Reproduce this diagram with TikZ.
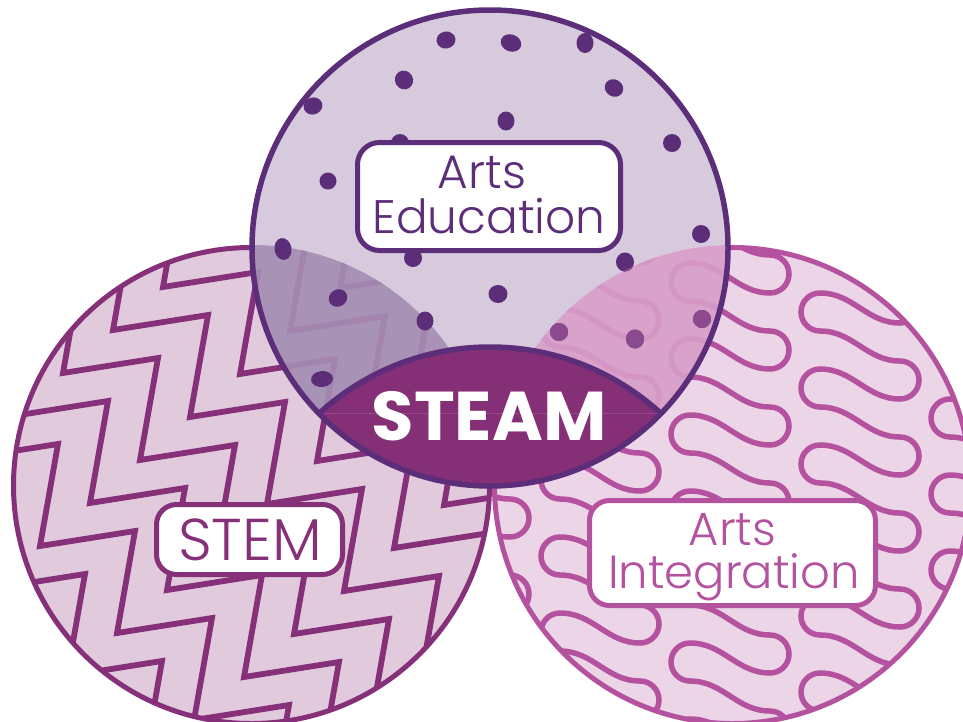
\documentclass[tikz,border=0pt]{standalone}
\usepackage{fontspec}
\setmainfont{Poppins}
\newfontfamily\lightfont{Poppins Light}
\definecolor{cTopB}{HTML}{5C2E7A}
\definecolor{cTopF}{HTML}{D8CADD}
\definecolor{cLeftF}{HTML}{E0CADC}
\definecolor{cLeftL}{HTML}{86307A}
\definecolor{cRightF}{HTML}{EBD5E7}
\definecolor{cRightL}{HTML}{B5529F}
\definecolor{cLOv}{HTML}{A893B6}
\definecolor{cLOvL}{HTML}{A185AE}
\definecolor{cROv}{HTML}{D9A2CB}
\definecolor{cROvL}{HTML}{D396C5}
\definecolor{cROvDot}{HTML}{8B4A8D}
\definecolor{cLens}{HTML}{842F76}
\definecolor{cLensLine}{HTML}{94478A}
\newcommand\zzpattern[1]{%
  \foreach \k in {-7,...,7}{%
    \pgfmathsetmacro\sx{113-50*\k-5*77}%
    \pgfmathsetmacro\sy{330+43*\k-5*87}%
    \draw[zz,#1] (\sx,\sy) \foreach \m in {1,...,13}{ -- ++(95,-15) -- ++(-18,102) };
  }}
\newcommand\sqpattern[1]{%
  \foreach \c in {0,...,4}{%
    \pgfmathsetmacro\sx{430+130*\c}%
    \pgfmathsetmacro\sy{165+mod(30*\c,76)}%
    \draw[sq,#1] (\sx,\sy) \foreach \n in {1,...,8}{ to[out=0,in=180] ++(80,30) arc[start angle=-90,end angle=90,radius=19] to[out=180,in=0] ++(-80,-30) arc[start angle=-90,end angle=-270,radius=19] };
  }}
\newcommand\dotlist{446/40/9.5/8.5/10, 511/43/10.5/8.5/-20, 585/43/8.5/10/0, 404/80/9/9.5/30, 614/88/9.5/8.5/-30, 313/106/9.5/8.5/20, 506/121/8.5/9.5/0, 672/143/9/9/0, 400/143/9/9/0, 328/181/8.5/8.5/0, 701/234/9/9/0, 283/249/8.5/11/10, 413/258/9/9/0, 625/262/9/9.5/0, 498/294/9.5/9/0, 338/298/9.5/8.5/30, 425/321/8.5/9.5/0, 702/319/9/9/0, 635/339/9/9.5/0, 559/332/9/9/0, 322/379/11/8/5}
\begin{document}
\begin{tikzpicture}[x=1pt,y=-1pt,
  zz/.style={line width=5.8pt, line join=miter, miter limit=10},
  sq/.style={line width=5.5pt, line cap=round},
  circborder/.style={line width=5pt},
  lblbox/.style={fill=white, line width=5pt, rounded corners=20pt, inner sep=0pt},
  lbltext/.style={anchor=base, inner sep=0pt},
]
\useasboundingbox (0,0) rectangle (963,721);
\clip (0,0) rectangle (963,721);
\coordinate (cL) at (251.5,485.5);
\coordinate (cR) at (732.5,485.5);
\coordinate (cT) at (490,248);
\coordinate (cV) at (490,600);
\coordinate (tipL) at (319,413.5);
\coordinate (tipR) at (661,413.5);
% left circle (STEM)
\fill[cLeftF] (cL) circle[radius=238];
\begin{scope}
  \clip (cL) circle[radius=238];
  \zzpattern{cLeftL}
\end{scope}
\draw[cLeftL, circborder] (cL) circle[radius=238];
% right circle (Arts Integration)
\fill[cRightF] (cR) circle[radius=238];
\begin{scope}
  \clip (cR) circle[radius=238];
  \sqpattern{cRightL}
\end{scope}
\draw[cRightL, circborder] (cR) circle[radius=238];
% top circle (Arts Education)
\fill[cTopF] (cT) circle[radius=238];
\begin{scope}
  \clip (cT) circle[radius=238];
  \clip (cL) circle[radius=240.5];
  \fill[cLOv] (cL) circle[radius=241];
  \zzpattern{cLOvL}
\end{scope}
\begin{scope}
  \clip (cT) circle[radius=238];
  \clip (cR) circle[radius=240.5];
  \fill[cROv] (cR) circle[radius=241];
  \sqpattern{cROvL}
\end{scope}
% dots
\foreach \x/\y/\rx/\ry/\rot in \dotlist {
  \fill[cTopB, rotate around={\rot:(\x,\y)}] (\x,\y) ellipse[x radius=\rx, y radius=\ry];
}
\begin{scope}
  \clip (cR) circle[radius=240.5];
  \foreach \x/\y/\rx/\ry/\rot in \dotlist {
    \fill[cROvDot, rotate around={\rot:(\x,\y)}] (\x,\y) ellipse[x radius=\rx, y radius=\ry];
  }
\end{scope}
% STEAM lens
\begin{scope}
  \clip (cT) circle[radius=238];
  \fill[cLens] (cV) circle[radius=253];
  \draw[cTopB, line width=5.5pt] (cV) circle[radius=253];
\end{scope}
\draw[cLensLine, line width=0.8pt] (tipL) -- (tipR);
\draw[cTopB, line width=5.5pt] (cT) circle[radius=238];
% labels
\node[lblbox, draw=cTopB, minimum width=263pt, minimum height=108pt, rounded corners=22pt] (aebox) at (489,196.5) {};
\node[lbltext, text=cTopB, font=\lightfont\fontsize{47}{47}\selectfont] (aeA) at (482,188) {Arts};
\node[lbltext, text=cTopB, font=\lightfont\fontsize{47}{47}\selectfont] (aeB) at (489,233) {Education};
\node[lblbox, draw=cLeftL, minimum width=186pt, minimum height=70pt] (stembox) at (249.5,539.5) {};
\node[lbltext, text=cLeftL, font=\lightfont\fontsize{59}{59}\selectfont] (stem) at (250,560) {STEM};
\node[lblbox, draw=cRightL, minimum width=286pt, minimum height=105pt] (aibox) at (732.5,553) {};
\node[lbltext, text=cRightL, font=\lightfont\fontsize{46.5}{46.5}\selectfont] (aiA) at (732.5,545) {Arts};
\node[lbltext, text=cRightL, font=\lightfont\fontsize{46.5}{46.5}\selectfont] (aiB) at (734,588) {Integration};
\node[lbltext, text=white, font=\fontsize{69}{69}\selectfont\bfseries] (steam) at (489,440) {STEAM};
\end{tikzpicture}
\end{document}
